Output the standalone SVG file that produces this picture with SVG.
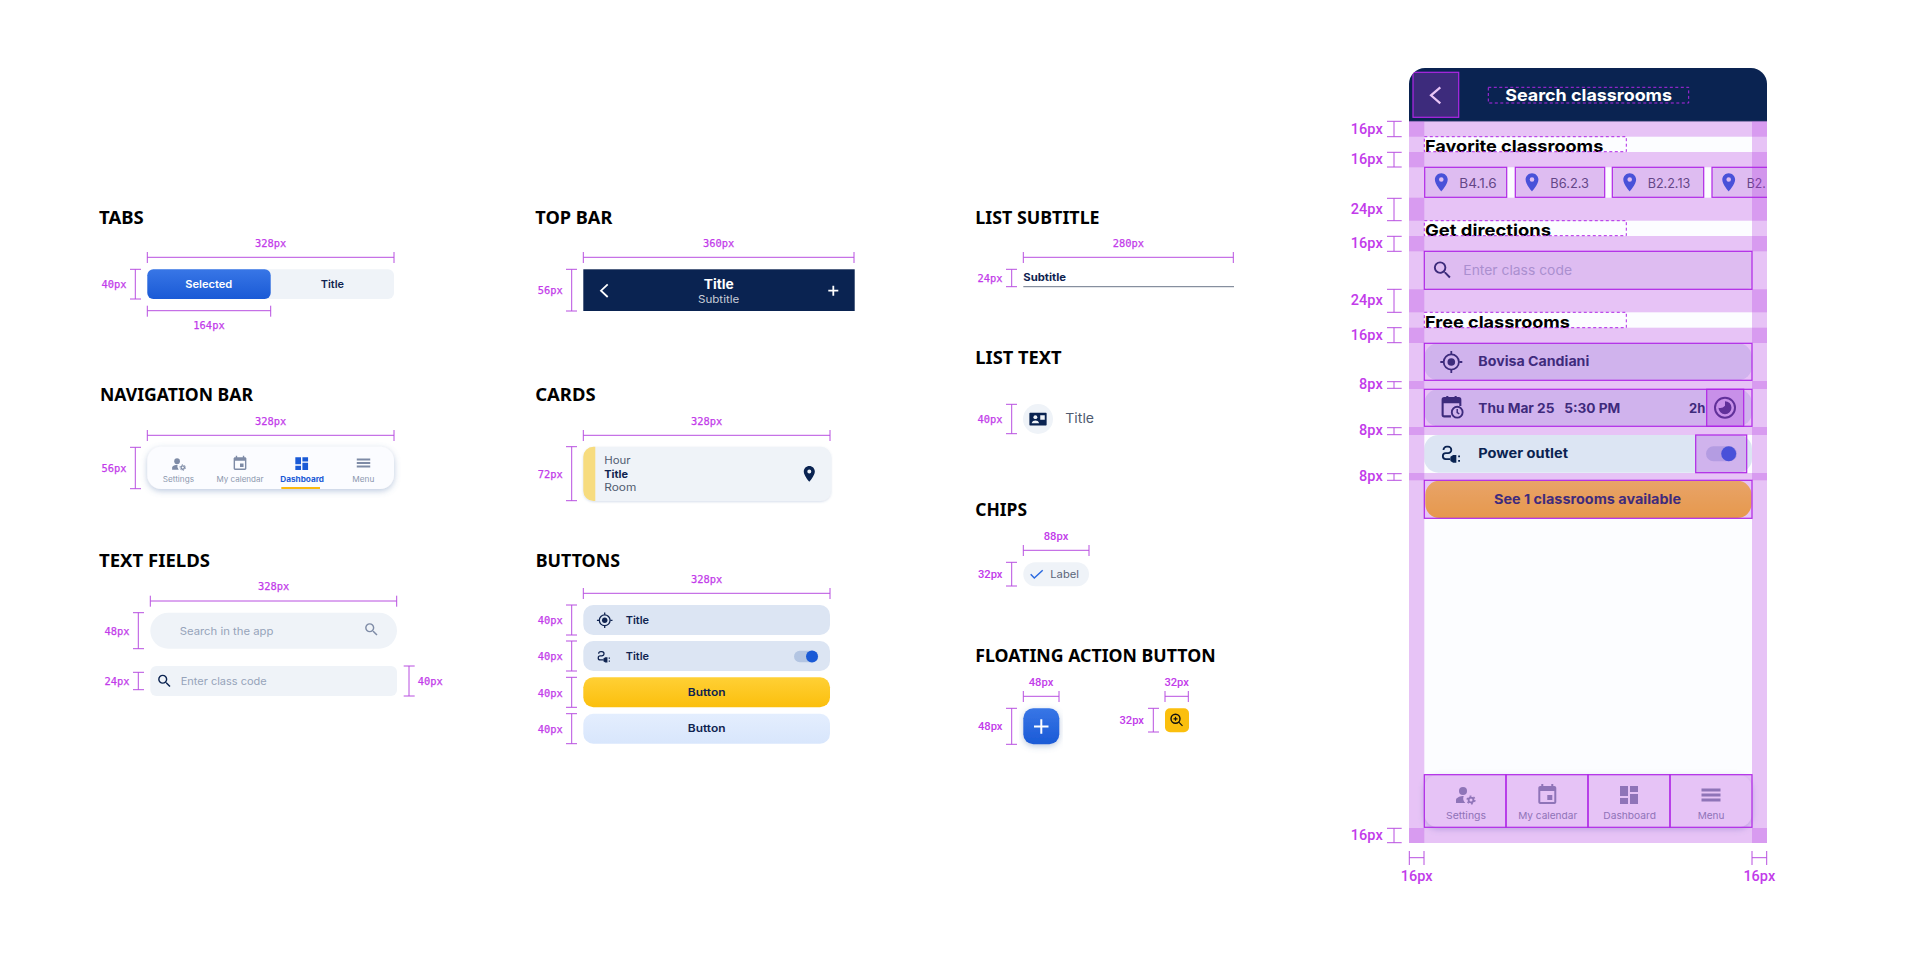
<svg xmlns="http://www.w3.org/2000/svg" width="1920" height="957" viewBox="0 0 1920 957">
<style>
svg{font-family:"Inter","Noto Sans",sans-serif}
.h{font-family:"Noto Sans","Open Sans",sans-serif;font-weight:700;font-size:17.5px;fill:#000}
.d{font-family:"DejaVu Sans Mono","Liberation Mono",monospace;font-weight:400;font-size:10.4px;fill:#c23bea;stroke:#c23bea;stroke-width:.25px}
.r{font-family:"Roboto",sans-serif;font-weight:500;font-size:11.2px;fill:#c23bea}
.p{font-family:"Roboto",sans-serif;font-weight:500;font-size:14.5px;fill:#c23bea}
.dim{fill:none;stroke:#b84fe0;stroke-width:1}
.b{font-weight:600;font-size:10.5px;fill:#0f2350}
.n{font-weight:400;font-size:10.5px;fill:#4f5b70}
.ph{font-weight:400;font-size:10.5px;fill:#96a3ba}
.nl{font-weight:400;font-size:7.5px;fill:#8a96ad}
.t{font-weight:700;font-size:16.5px;fill:#000}
.rw{font-weight:700;font-size:13px;fill:#0a2351}
.nl2{font-weight:400;font-size:9.5px;fill:#7e8ba6}
.ov{fill:#b53fe0;fill-opacity:.3}
.box{fill:#b53fe0;fill-opacity:.3;stroke:#b026e6;stroke-width:1.2}
.dash{fill:none;stroke:#b026e6;stroke-width:1;stroke-dasharray:3 2.5}
.pale{fill:#eff3f8}
.lav{fill:#dce5f3}
</style>
<defs>
<linearGradient id="blue" x1="0" y1="0" x2="0" y2="1"><stop offset="0" stop-color="#3876e6"/><stop offset="1" stop-color="#1a5ad6"/></linearGradient>
<linearGradient id="yel" x1="0" y1="0" x2="0" y2="1"><stop offset="0" stop-color="#ffd035"/><stop offset="1" stop-color="#fbbf0d"/></linearGradient>
<linearGradient id="lb" x1="0" y1="0" x2="0" y2="1"><stop offset="0" stop-color="#e4eefe"/><stop offset="1" stop-color="#d8e6fc"/></linearGradient>
<filter id="sh" x="-10%" y="-20%" width="120%" height="150%"><feDropShadow dx="0" dy="2" stdDeviation="3" flood-color="#5a7ab0" flood-opacity=".4"/></filter>
<filter id="shs" x="-10%" y="-20%" width="120%" height="140%"><feDropShadow dx="0" dy="1" stdDeviation="1" flood-color="#5a7ab0" flood-opacity=".25"/></filter>
<clipPath id="phone"><path d="M1409 843V84a16 16 0 0 1 16-16h326a16 16 0 0 1 16 16v759z"/></clipPath>
<symbol id="i-search" viewBox="0 0 24 24"><path fill="currentColor" d="M15.5 14h-.79l-.28-.27A6.47 6.47 0 0 0 16 9.5 6.5 6.5 0 1 0 9.5 16c1.61 0 3.09-.59 4.23-1.57l.27.28v.79l5 4.99L20.49 19l-4.99-5zm-6 0C7.01 14 5 11.99 5 9.5S7.01 5 9.5 5 14 7.01 14 9.5 11.99 14 9.5 14z"/></symbol>
<symbol id="i-pin" viewBox="0 0 24 24"><path fill="currentColor" d="M12 2C8.13 2 5 5.13 5 9c0 5.25 7 13 7 13s7-7.75 7-13c0-3.87-3.13-7-7-7zm0 9.5a2.5 2.5 0 0 1 0-5 2.5 2.5 0 0 1 0 5z"/></symbol>
<symbol id="i-cal" viewBox="0 0 24 24"><path fill="currentColor" d="M17 12h-5v5h5v-5zM16 1v2H8V1H6v2H5c-1.11 0-1.99.9-1.99 2L3 19c0 1.1.89 2 2 2h14c1.1 0 2-.9 2-2V5c0-1.1-.9-2-2-2h-1V1h-2zm3 18H5V8h14v11z"/></symbol>
<symbol id="i-dash" viewBox="0 0 24 24"><path fill="currentColor" d="M3 13h8V3H3v10zm0 8h8v-6H3v6zm10 0h8V11h-8v10zm0-18v6h8V3h-8z"/></symbol>
<symbol id="i-menu" viewBox="0 0 24 24"><path fill="currentColor" d="M2.500 5.500h19v3h-19zM2.500 10.500h19v3h-19zM2.500 15.500h19v3h-19z"/></symbol>
<symbol id="i-set" viewBox="0 0 24 24"><g fill="currentColor"><circle cx="10" cy="8" r="4"/><path d="M10.700 13C7.600 13 3 14.500 3 17v3h9.300a6.500 6.500 0 0 1-1.600-7z"/></g><circle cx="18" cy="17" r="2.400" fill="none" stroke="currentColor" stroke-width="1.800"/><circle cx="18" cy="17" r="3.900" fill="none" stroke="currentColor" stroke-width="1.400" stroke-dasharray="1.900 2.200"/></symbol>
<symbol id="i-target" viewBox="0 0 24 24"><circle cx="12" cy="12" r="7.600" fill="none" stroke="currentColor" stroke-width="1.800"/><circle cx="12" cy="12" r="3.800" fill="currentColor"/><path d="M12 1v3M12 20v3M1 12h3M20 12h3" stroke="currentColor" stroke-width="1.800" fill="none"/></symbol>
<symbol id="i-plug" viewBox="0 0 24 24"><path d="M3.500 7.500a3.500 3.500 0 0 1 3.500-3.500h1.500a3.500 3.500 0 0 1 0 7H6a3 3 0 0 0 0 6.500h5" fill="none" stroke="currentColor" stroke-width="2"/><path fill="currentColor" d="M11 15l3-2h3.500v8.500H14l-3-2zM19.500 13.500h2v2h-2zM19.500 18.500h2v2h-2z"/></symbol>
<symbol id="i-card" viewBox="0 0 24 24"><path fill="currentColor" fill-rule="evenodd" d="M1.500 3.500h21a1 1 0 0 1 1 1v15a1 1 0 0 1-1 1h-21a1 1 0 0 1-1-1v-15a1 1 0 0 1 1-1zM15 7v6h6V7z"/><circle cx="8.500" cy="9.500" r="2.600" fill="#eff3f8"/><path d="M3.500 17.500c.5-2.600 3-3.600 5-3.600s4.500 1 5 3.600z" fill="#eff3f8"/></symbol>
<symbol id="i-time" viewBox="0 0 24 24"><circle cx="12" cy="12" r="10" fill="none" stroke="currentColor" stroke-width="2"/><path fill="currentColor" d="M12 5.500a6.500 6.500 0 1 1-6.500 6.500 6.500 6.500 0 0 0 6.500-2z"/></symbol>
<symbol id="i-calc" viewBox="0 0 24 24"><path d="M11 21H4.500A1.500 1.500 0 0 1 3 19.500V5a1.500 1.500 0 0 1 1.500-1.500h14A1.500 1.500 0 0 1 20 5v6" fill="none" stroke="currentColor" stroke-width="2"/><path fill="currentColor" d="M3 4h17v4.500H3zM6.500 1.500h2v3h-2zM14.500 1.500h2v3h-2z"/><circle cx="17" cy="17" r="5.200" fill="none" stroke="currentColor" stroke-width="1.800"/><path d="M17 14v3.300l2 1.200" fill="none" stroke="currentColor" stroke-width="1.400"/></symbol>
</defs>

<g id="tabs">
<text class="h" x="99" y="223.600" textLength="44.700" lengthAdjust="spacingAndGlyphs">TABS</text>
<rect class="pale" x="147.300" y="269.300" width="246.700" height="29.700" rx="6"/>
<rect fill="url(#blue)" x="147.300" y="269.300" width="123.400" height="29.700" rx="6"/>
<text class="b" x="185.300" y="288.300" style="fill:#fff" textLength="47" lengthAdjust="spacingAndGlyphs">Selected</text>
<text class="b" x="320.700" y="288.300" textLength="23.300" lengthAdjust="spacingAndGlyphs">Title</text>
</g>

<g id="navigation-bar">
<text class="h" x="100" y="401" textLength="153" lengthAdjust="spacingAndGlyphs">NAVIGATION BAR</text>
<rect x="147.300" y="446.700" width="246.700" height="42.300" rx="14" fill="#fbfcff" filter="url(#sh)"/>
<g color="#7e8ba6">
<use href="#i-set" x="170" y="455.500" width="17" height="17"/>
<use href="#i-cal" x="231.500" y="455" width="17" height="17"/>
<use href="#i-menu" x="355" y="454.500" width="17" height="17"/>
</g>
<use href="#i-dash" x="293.200" y="455" width="17" height="17" color="#1a5ad6"/>
<text class="nl" x="162.700" y="482.300" textLength="31.300" lengthAdjust="spacingAndGlyphs">Settings</text>
<text class="nl" x="216.500" y="482.300" textLength="47" lengthAdjust="spacingAndGlyphs">My calendar</text>
<text class="nl" x="280.300" y="482.300" style="font-weight:700;fill:#1a5ad6" textLength="43.700" lengthAdjust="spacingAndGlyphs">Dashboard</text>
<text class="nl" x="352.300" y="482.300" textLength="22" lengthAdjust="spacingAndGlyphs">Menu</text>
<rect x="281.300" y="487" width="38.700" height="2" fill="#fbb90f"/>
</g>

<g id="text-fields">
<text class="h" x="99" y="566.700" textLength="111" lengthAdjust="spacingAndGlyphs">TEXT FIELDS</text>
<rect class="pale" x="150.300" y="612.700" width="246.700" height="36" rx="18"/>
<text class="ph" x="179.700" y="634.700" textLength="93.700" lengthAdjust="spacingAndGlyphs">Search in the app</text>
<use href="#i-search" x="363" y="621" width="17" height="17" color="#7e8ba6"/>
<rect class="pale" x="150.300" y="666" width="246.700" height="30" rx="6"/>
<use href="#i-search" x="156" y="672.500" width="17" height="17" color="#0a2351"/>
<text class="ph" x="180.700" y="685.300" textLength="86" lengthAdjust="spacingAndGlyphs">Enter class code</text>
</g>

<g id="top-bar">
<text class="h" x="535.300" y="223.600" textLength="77" lengthAdjust="spacingAndGlyphs">TOP BAR</text>
<rect x="583.300" y="269.300" width="271.400" height="41.700" fill="#0a2351"/>
<path d="M607.700 284.300L601 290.700L607.700 297M828.300 290.700h10M833.300 285.700v10" fill="none" stroke="#fff" stroke-width="1.800"/>
<text class="b" x="703.700" y="289.300" style="font-size:13px;font-weight:700;fill:#fff" textLength="30" lengthAdjust="spacingAndGlyphs">Title</text>
<text class="n" x="698" y="302.700" style="fill:#c8cdd8" textLength="41.300" lengthAdjust="spacingAndGlyphs">Subtitle</text>
</g>

<g id="cards">
<text class="h" x="535.300" y="401" textLength="60.300" lengthAdjust="spacingAndGlyphs">CARDS</text>
<rect class="pale" x="583.300" y="446.700" width="247.700" height="54.300" rx="10" filter="url(#shs)"/>
<path d="M595.300 446.700h-2a10 10 0 0 0-10 10v34.300a10 10 0 0 0 10 10h2z" fill="#f7dc7f"/>
<text class="n" x="604.300" y="464.300" textLength="26.300" lengthAdjust="spacingAndGlyphs">Hour</text>
<text class="b" x="604.300" y="478" style="font-weight:700" textLength="23.700" lengthAdjust="spacingAndGlyphs">Title</text>
<text class="n" x="604.300" y="491.300" textLength="32" lengthAdjust="spacingAndGlyphs">Room</text>
<use href="#i-pin" x="799.800" y="464.300" width="19" height="19" color="#0a2351"/>
</g>

<g id="buttons">
<text class="h" x="535.700" y="566.700" textLength="84.300" lengthAdjust="spacingAndGlyphs">BUTTONS</text>
<rect class="lav" x="583.300" y="605" width="246.700" height="30" rx="10"/>
<use href="#i-target" x="596.200" y="611.800" width="17" height="17" color="#0f2350"/>
<text class="b" x="625.700" y="623.700" textLength="23.300" lengthAdjust="spacingAndGlyphs">Title</text>
<rect class="lav" x="583.300" y="641" width="246.700" height="30" rx="10"/>
<use href="#i-plug" x="596.500" y="649" width="15" height="15" color="#0f2350"/>
<text class="b" x="625.700" y="659.700" textLength="23.300" lengthAdjust="spacingAndGlyphs">Title</text>
<rect x="794" y="650.700" width="24.300" height="11.600" rx="5.800" fill="#b3c5e2"/>
<circle cx="812" cy="656.500" r="6" fill="#1a5ad6"/>
<rect fill="url(#yel)" x="583.300" y="677.300" width="246.700" height="30" rx="10"/>
<text class="b" x="687.800" y="696" textLength="37.700" lengthAdjust="spacingAndGlyphs">Button</text>
<rect fill="url(#lb)" x="583.300" y="713.700" width="246.700" height="30" rx="10"/>
<text class="b" x="687.800" y="732.300" textLength="37.700" lengthAdjust="spacingAndGlyphs">Button</text>
</g>

<g id="list-subtitle">
<text class="h" x="975.300" y="223.600" textLength="124.300" lengthAdjust="spacingAndGlyphs">LIST SUBTITLE</text>
<text class="b" x="1023.300" y="281.300" style="font-weight:700" textLength="42.700" lengthAdjust="spacingAndGlyphs">Subtitle</text>
<path d="M1023.300 286.700H1234" stroke="#6b7688" stroke-width="1" fill="none"/>
</g>

<g id="list-text">
<text class="h" x="975.300" y="363.600" textLength="86.300" lengthAdjust="spacingAndGlyphs">LIST TEXT</text>
<circle class="pale" cx="1038" cy="419" r="15"/>
<use href="#i-card" x="1029" y="410" width="18" height="18" color="#0a2351"/>
<text class="n" x="1065.300" y="423.300" style="font-size:13px" textLength="28.700" lengthAdjust="spacingAndGlyphs">Title</text>
</g>

<g id="chips">
<text class="h" x="975.300" y="516.300" textLength="51.700" lengthAdjust="spacingAndGlyphs">CHIPS</text>
<rect class="pale" x="1023.300" y="562.300" width="65.700" height="24" rx="12"/>
<path d="M1030.700 574.300L1034.300 578L1042.700 570.300" fill="none" stroke="#2b6ae0" stroke-width="1.500"/>
<text class="n" x="1050.300" y="578" style="fill:#5a6578" textLength="28.700" lengthAdjust="spacingAndGlyphs">Label</text>
</g>

<g id="floating-action-button">
<text class="h" x="975.300" y="662" textLength="240.300" lengthAdjust="spacingAndGlyphs">FLOATING ACTION BUTTON</text>
<rect fill="url(#blue)" x="1023.300" y="708.300" width="36" height="36" rx="10" filter="url(#sh)"/>
<path d="M1034 726.500h14.500M1041.300 719.300v14.500" stroke="#fff" stroke-width="2" fill="none"/>
<rect x="1165" y="708.300" width="24" height="24" rx="5" fill="#fbbf0d"/>
<circle cx="1175.500" cy="718.800" r="4.500" fill="none" stroke="#111" stroke-width="1.400"/>
<path d="M1173.500 718.800h4M1175.500 716.800v4M1178.800 722.100l3.700 3.700" stroke="#111" stroke-width="1.200" fill="none"/>
</g>

<g id="phone-screen">
<g clip-path="url(#phone)">
<rect x="1409" y="68" width="358" height="775" fill="#fcfdff"/>
<rect x="1409" y="68" width="358" height="53.300" fill="#0a2351"/>
<path d="M1409 121.300h358" stroke="#5f6f90" stroke-width=".6"/>
<path d="M1440.300 87.300L1431 95.300L1440.300 103.300" fill="none" stroke="#fff" stroke-width="2.200"/>
<text x="1505.300" y="101" style="font-weight:700;font-size:16.500px;fill:#fff" textLength="166.700" lengthAdjust="spacingAndGlyphs">Search classrooms</text>
<text class="t" x="1425" y="151.500" textLength="178.300" lengthAdjust="spacingAndGlyphs">Favorite classrooms</text>
<text class="t" x="1425" y="235.500" textLength="126" lengthAdjust="spacingAndGlyphs">Get directions</text>
<text class="t" x="1425" y="327.500" textLength="145" lengthAdjust="spacingAndGlyphs">Free classrooms</text>

<g id="fav-chips">
<rect class="pale" x="1424.700" y="167.300" width="82" height="30" rx="6"/>
<rect class="pale" x="1515.300" y="167.300" width="89.400" height="30" rx="6"/>
<rect class="pale" x="1612.300" y="167.300" width="91.400" height="30" rx="6"/>
<rect class="pale" x="1712" y="167.300" width="80" height="30" rx="6"/>
<g color="#1a5ad6">
<use href="#i-pin" x="1430.300" y="171.300" width="22" height="22"/>
<use href="#i-pin" x="1521" y="171.300" width="22" height="22"/>
<use href="#i-pin" x="1618.700" y="171.300" width="22" height="22"/>
<use href="#i-pin" x="1717.700" y="171.300" width="22" height="22"/>
</g>
<text class="n" x="1459.300" y="188" style="font-size:12.500px;fill:#3f4a60" textLength="37.400" lengthAdjust="spacingAndGlyphs">B4.1.6</text>
<text class="n" x="1550.300" y="188" style="font-size:12.500px;fill:#3f4a60" textLength="38.700" lengthAdjust="spacingAndGlyphs">B6.2.3</text>
<text class="n" x="1647.700" y="188" style="font-size:12.500px;fill:#3f4a60" textLength="42.600" lengthAdjust="spacingAndGlyphs">B2.2.13</text>
<text class="n" x="1746.700" y="188" style="font-size:12.500px;fill:#3f4a60" textLength="19" lengthAdjust="spacingAndGlyphs">B2.</text>
</g>

<rect class="pale" x="1424.300" y="251.300" width="327.700" height="38" rx="6"/>
<use href="#i-search" x="1431" y="258.500" width="23" height="23" color="#0a2351"/>
<text class="ph" x="1463.300" y="275" style="font-size:13.500px;fill:#a6b2c8" textLength="108.700" lengthAdjust="spacingAndGlyphs">Enter class code</text>

<rect class="lav" x="1424.300" y="343.300" width="327.700" height="37" rx="14"/>
<use href="#i-target" x="1439.300" y="350" width="24" height="24" color="#0a2351"/>
<text class="rw" x="1478.300" y="366.300" textLength="111" lengthAdjust="spacingAndGlyphs">Bovisa Candiani</text>

<rect class="lav" x="1424.300" y="389.300" width="327.700" height="37" rx="14"/>
<use href="#i-calc" x="1439.500" y="394.500" width="25" height="25" color="#0a2351"/>
<text class="rw" x="1478.300" y="412.500" textLength="142" lengthAdjust="spacingAndGlyphs" xml:space="preserve">Thu Mar 25   5:30 PM</text>
<text class="rw" x="1689" y="412.500" textLength="16.300" lengthAdjust="spacingAndGlyphs">2h</text>
<use href="#i-time" x="1713" y="395.700" width="24" height="24" color="#0a2351"/>

<rect class="lav" x="1424.300" y="435" width="327.700" height="37.700" rx="14"/>
<use href="#i-plug" x="1440.300" y="443" width="22" height="22" color="#0a2351"/>
<text class="rw" x="1478.300" y="458" textLength="89.700" lengthAdjust="spacingAndGlyphs">Power outlet</text>
<rect x="1706" y="446.300" width="31" height="15" rx="7.500" fill="#b3c5e2"/>
<circle cx="1728.700" cy="453.800" r="7.500" fill="#1a5ad6"/>

<rect fill="url(#yel)" x="1425.300" y="480.800" width="326.200" height="37.200" rx="14"/>
<text class="rw" x="1494" y="504" textLength="187" lengthAdjust="spacingAndGlyphs">See 1 classrooms available</text>

<rect x="1424.300" y="774.700" width="327.700" height="52.600" rx="14" fill="#fbfcff" filter="url(#sh)"/>
<g color="#7e8ba6">
<use href="#i-set" x="1453" y="783" width="24" height="24"/>
<use href="#i-cal" x="1535.300" y="783" width="24" height="24"/>
<use href="#i-dash" x="1617" y="783" width="24" height="24"/>
<use href="#i-menu" x="1699" y="783" width="24" height="24"/>
</g>
<text class="nl2" x="1446" y="819.300" textLength="40" lengthAdjust="spacingAndGlyphs">Settings</text>
<text class="nl2" x="1518.200" y="819.300" textLength="59" lengthAdjust="spacingAndGlyphs">My calendar</text>
<text class="nl2" x="1603.300" y="819.300" textLength="52.700" lengthAdjust="spacingAndGlyphs">Dashboard</text>
<text class="nl2" x="1697.700" y="819.300" textLength="26.700" lengthAdjust="spacingAndGlyphs">Menu</text>
</g>

<g id="spacing-overlay" clip-path="url(#phone)">
<g class="ov">
<rect x="1409" y="121.300" width="15.300" height="721.700"/>
<rect x="1752" y="121.300" width="15" height="721.700"/>
<rect x="1409" y="121.300" width="358" height="15.400"/>
<rect x="1409" y="152" width="358" height="15.300"/>
<rect x="1409" y="197.700" width="358" height="23"/>
<rect x="1409" y="236" width="358" height="15.300"/>
<rect x="1409" y="289.300" width="358" height="23"/>
<rect x="1409" y="327.700" width="358" height="15.300"/>
<rect x="1409" y="381" width="358" height="8"/>
<rect x="1409" y="427" width="358" height="8"/>
<rect x="1409" y="473" width="358" height="7.300"/>
<rect x="1409" y="828" width="358" height="15"/>
</g>
<rect class="box" x="1413" y="72.300" width="45.700" height="45"/>
<rect class="dash" x="1488.300" y="87.300" width="200.400" height="15.700"/>
<rect class="dash" x="1424.300" y="136.700" width="202" height="15"/>
<rect class="dash" x="1424.300" y="220.700" width="202" height="15"/>
<rect class="dash" x="1424.300" y="312.300" width="202" height="15.400"/>
<rect class="box" x="1424.700" y="167.300" width="82" height="30"/>
<rect class="box" x="1515.300" y="167.300" width="89.400" height="30"/>
<rect class="box" x="1612.300" y="167.300" width="91.400" height="30"/>
<rect class="box" x="1712" y="167.300" width="80" height="30"/>
<rect class="box" x="1424.300" y="251.300" width="327.700" height="38"/>
<rect class="box" x="1424.300" y="343.300" width="327.700" height="37"/>
<rect class="box" x="1424.300" y="389.300" width="327.700" height="37"/>
<rect class="box" x="1706.700" y="389.300" width="37" height="37"/>
<rect class="box" x="1695.700" y="435" width="51" height="37.700"/>
<rect class="box" x="1424.300" y="480.300" width="327.700" height="38"/>
<rect class="box" x="1424.300" y="774.700" width="81.700" height="52.600"/>
<rect class="box" x="1506" y="774.700" width="82" height="52.600"/>
<rect class="box" x="1588" y="774.700" width="82" height="52.600"/>
<rect class="box" x="1670" y="774.700" width="82" height="52.600"/>
</g>
</g>

<g id="connectors">
<path class="dim" d="M147.300 252v11M394 252v11M147.300 257.300H394"/>
<path class="dim" d="M130 269.300h11M130 299h11M135.300 269.300V299"/>
<path class="dim" d="M147.300 305.700v11M270.700 305.700v11M147.300 310.700H270.700"/>
<path class="dim" d="M147.300 430v11M394 430v11M147.300 435.300H394"/>
<path class="dim" d="M130 447.300h11M130 488.700h11M135.300 447.300V488.700"/>
<path class="dim" d="M150.300 595.700v11M396.700 595.700v11M150.300 601H396.700"/>
<path class="dim" d="M133 612.700h11M133 648.700h11M138.300 612.700V648.700"/>
<path class="dim" d="M133 672.300h11M133 689.700h11M138.300 672.300V689.700"/>
<path class="dim" d="M403.700 666h11M403.700 696h11M409 666V696"/>
<path class="dim" d="M583.300 252v11M854 252v11M583.300 257.300H854"/>
<path class="dim" d="M566 269.300h11M566 311h11M571.700 269.300V311"/>
<path class="dim" d="M583.300 430v11M830 430v11M583.300 435.300H830"/>
<path class="dim" d="M566 446.700h11M566 500.700h11M571.700 446.700V500.700"/>
<path class="dim" d="M583.300 588v11M830 588v11M583.300 593.300H830"/>
<path class="dim" d="M566 605h11M566 635h11M571.700 605V635"/>
<path class="dim" d="M566 641h11M566 671h11M571.700 641V671"/>
<path class="dim" d="M566 677.300h11M566 707.300h11M571.700 677.300V707.300"/>
<path class="dim" d="M566 713.700h11M566 743.700h11M571.700 713.700V743.700"/>
<path class="dim" d="M1023.300 252v11M1233.300 252v11M1023.300 257.300H1233.300"/>
<path class="dim" d="M1006 269.300h11M1006 286.700h11M1011.700 269.300V286.700"/>
<path class="dim" d="M1006 404.300h11M1006 433.700h11M1011.700 404.300V433.700"/>
<path class="dim" d="M1023.300 545v11M1089 545v11M1023.300 550.300H1089"/>
<path class="dim" d="M1006 562.300h11M1006 586h11M1011.700 562.300V586"/>
<path class="dim" d="M1023.300 691v11M1059 691v11M1023.300 696.300H1059"/>
<path class="dim" d="M1006 708.300h11M1006 744.300h11M1011.700 708.300V744.300"/>
<path class="dim" d="M1165 691v11M1188.300 691v11M1165 696.300H1188.300"/>
<path class="dim" d="M1148 708.300h11M1148 732h11M1153.300 708.300V732"/>
<path class="dim" d="M1387 121.300h14.700M1387 136.700h14.700M1394 121.300V136.700"/>
<path class="dim" d="M1387 152.300h14.700M1387 167h14.700M1394 152.300V167"/>
<path class="dim" d="M1387 198.300h14.700M1387 220.700h14.700M1394 198.300V220.700"/>
<path class="dim" d="M1387 236.300h14.700M1387 251.300h14.700M1394 236.300V251.300"/>
<path class="dim" d="M1387 289.300h14.700M1387 312.300h14.700M1394 289.300V312.300"/>
<path class="dim" d="M1387 327.700h14.700M1387 342.700h14.700M1394 327.700V342.700"/>
<path class="dim" d="M1387 381.700h14.700M1387 388.300h14.700M1394 381.700V388.300"/>
<path class="dim" d="M1387 427.700h14.700M1387 434.700h14.700M1394 427.700V434.700"/>
<path class="dim" d="M1387 473.700h14.700M1387 480.300h14.700M1394 473.700V480.300"/>
<path class="dim" d="M1387 828.300h14.700M1387 842.700h14.700M1394 828.300V842.700"/>
<path class="dim" d="M1409.300 851v14M1424 851v14M1409.300 857.700H1424"/>
<path class="dim" d="M1752 851v14M1766.700 851v14M1752 857.700H1766.700"/>
</g>

<g id="dimension-labels">
<g class="d" text-anchor="middle">
<text x="270.700" y="247.300">328px</text>
<text x="209" y="329.300">164px</text>
<text x="270.700" y="424.700">328px</text>
<text x="273.700" y="590">328px</text>
<text x="718.700" y="247.300">360px</text>
<text x="706.700" y="424.700">328px</text>
<text x="706.700" y="582.700">328px</text>
<text x="1128.300" y="247.300">280px</text>
</g>
<g class="d" text-anchor="end">
<text x="126.500" y="288">40px</text>
<text x="126.500" y="472">56px</text>
<text x="129.500" y="634.700">48px</text>
<text x="129.500" y="685">24px</text>
<text x="562.700" y="294.300">56px</text>
<text x="562.700" y="478">72px</text>
<text x="562.700" y="624">40px</text>
<text x="562.700" y="660">40px</text>
<text x="562.700" y="696.700">40px</text>
<text x="562.700" y="733">40px</text>
<text x="1002.500" y="282">24px</text>
<text x="1002.500" y="422.700">40px</text>
</g>
<text class="d" x="417.700" y="685.300">40px</text>
<g class="r" text-anchor="middle">
<text x="1056" y="539.700">88px</text>
<text x="1041" y="686">48px</text>
<text x="1176.700" y="686">32px</text>
</g>
<g class="r" text-anchor="end">
<text x="1002.500" y="578">32px</text>
<text x="1002.500" y="730">48px</text>
<text x="1144" y="724">32px</text>
</g>
<g class="p" text-anchor="end">
<text x="1382.700" y="134">16px</text>
<text x="1382.700" y="164.300">16px</text>
<text x="1382.700" y="214">24px</text>
<text x="1382.700" y="248.300">16px</text>
<text x="1382.700" y="305.300">24px</text>
<text x="1382.700" y="339.700">16px</text>
<text x="1382.700" y="389.300">8px</text>
<text x="1382.700" y="435.300">8px</text>
<text x="1382.700" y="481.300">8px</text>
<text x="1382.700" y="839.700">16px</text>
</g>
<g class="p" text-anchor="middle">
<text x="1416.700" y="881.300">16px</text>
<text x="1759.300" y="881.300">16px</text>
</g>
</g>
</svg>
